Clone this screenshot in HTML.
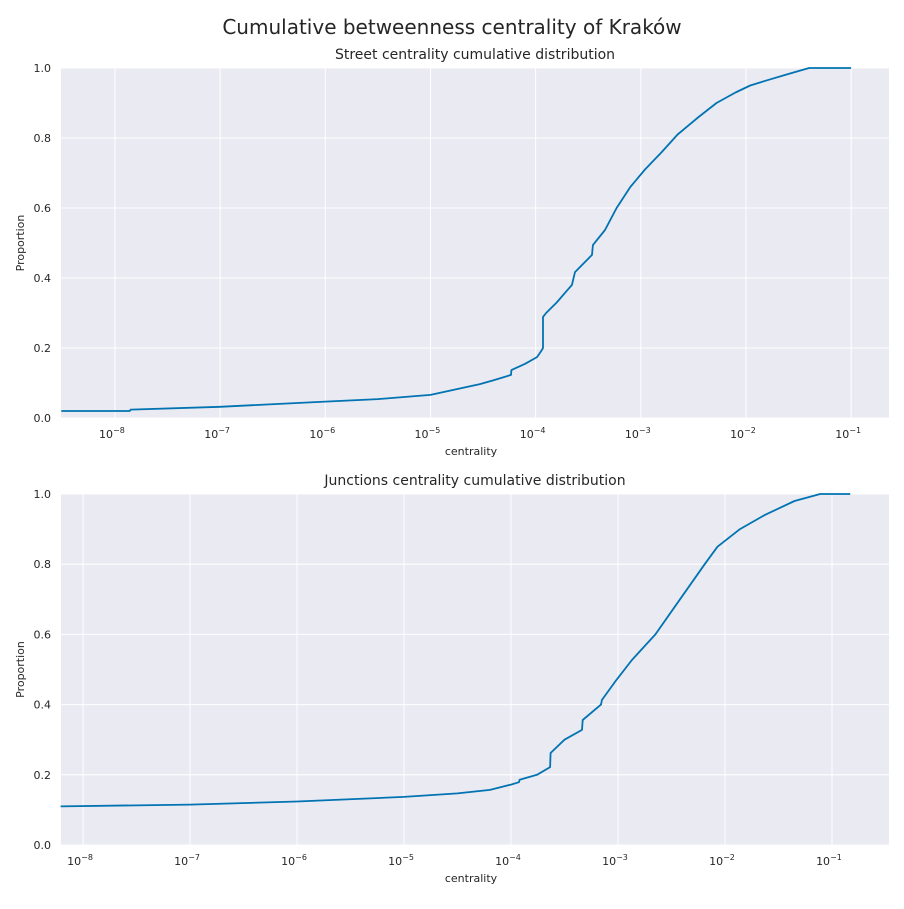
<!DOCTYPE html>
<html><head><meta charset="utf-8"><style>
body{margin:0;background:#fff;}
svg text{font-family:"DejaVu Sans","Liberation Sans",sans-serif;fill:#262626;}
</style></head><body>
<svg id="chart" width="904" height="904" viewBox="0 0 904 904">
<text x="452" y="34" font-size="20" text-anchor="middle">Cumulative betweenness centrality of Kraków</text>
</svg>
<script>
// Street panel data (log10 centrality, proportion)
const streetLogX=[-8.51,-7.86,-7.85,-7,-6,-5.5,-5,-4.53,-4.4,-4.234,-4.23,-4.1,-3.987,-3.95,-3.93,-3.93,-3.9,-3.8,-3.7,-3.655,-3.626,-3.55,-3.464,-3.455,-3.34,-3.29,-3.23,-3.1,-2.96,-2.8,-2.65,-2.45,-2.28,-2.1,-1.96,-1.8,-1.63,-1.4,-1.0];
const streetY=[0.02,0.02,0.024,0.032,0.047,0.054,0.066,0.097,0.108,0.123,0.137,0.155,0.174,0.19,0.2,0.289,0.30,0.33,0.365,0.38,0.417,0.44,0.466,0.494,0.537,0.566,0.60,0.66,0.71,0.76,0.81,0.86,0.90,0.93,0.95,0.965,0.98,1.0,1.0];
// Junction panel data
const juncLogX=[-8.21,-7,-6,-5,-4.5,-4.196,-4.0,-3.925,-3.92,-3.757,-3.635,-3.63,-3.5,-3.336,-3.33,-3.159,-3.15,-3.03,-2.87,-2.65,-2.42,-2.19,-2.07,-1.86,-1.63,-1.35,-1.11,-0.83];
const juncY=[0.11,0.115,0.124,0.137,0.147,0.157,0.172,0.179,0.186,0.2,0.222,0.262,0.3,0.328,0.356,0.4,0.413,0.464,0.527,0.6,0.7,0.8,0.85,0.9,0.94,0.98,1.0,1.0];
const yTicks=[0,0.2,0.4,0.6,0.8,1.0];
const xTickExps=[-8,-7,-6,-5,-4,-3,-2,-1];

const NS="http://www.w3.org/2000/svg";
const svg=document.getElementById('chart');
function mk(tag,attrs,parent){const e=document.createElementNS(NS,tag);for(const k in attrs)e.setAttribute(k,attrs[k]);(parent||svg).appendChild(e);return e;}

function panel(cfg){
  const g=mk('g',{});
  
  
  const L=61,R=889,T=cfg.top,B=cfg.bottom;
  const xs=v=>L+(v-cfg.xmin)/(cfg.xmax-cfg.xmin)*(R-L);
  const ys=v=>B-v*(B-T);
  const bg=mk('rect',{x:L,y:T,width:R-L,height:B-T,fill:'#eaeaf2'},g);
  
  
  yTicks.forEach(t=>{
    const ln=mk('line',{x1:L,x2:R,y1:ys(t),y2:ys(t),stroke:'#fff','stroke-width':1},g);
    
    
    const tx=mk('text',{x:L-10,y:ys(t)+4,'font-size':11,'text-anchor':'end'},g);
    tx.textContent=t.toFixed(1);
    
    
  });
  xTickExps.forEach(e=>{
    const x=xs(e);
    const ln=mk('line',{x1:x,x2:x,y1:T,y2:B,stroke:'#fff','stroke-width':1},g);
    
    
    const tx=mk('text',{x:x-3,y:B+20,'font-size':11,'text-anchor':'middle'},g);
    
    
    tx.textContent='10';
    const sup=mk('tspan',{dy:-5,'font-size':8},tx);
    sup.textContent='−'+Math.abs(e);
  });
  let d='';
  cfg.lx.forEach((v,i)=>{d+=(i?'L':'M')+xs(v).toFixed(1)+','+ys(cfg.ly[i]).toFixed(1);});
  const p=mk('path',{d:d,fill:'none',stroke:'#0173b2','stroke-width':1.8,'stroke-linejoin':'round'},g);
  
  
  const t=mk('text',{x:(L+R)/2,y:T-9,'font-size':14,'text-anchor':'middle'},g);
  t.textContent=cfg.title;
  
  
  const xl=mk('text',{x:(L+R)/2-4,y:B+37,'font-size':11,'text-anchor':'middle'},g);
  xl.textContent='centrality';
  
  
  const yl=mk('text',{x:0,y:0,'font-size':11,'text-anchor':'middle',transform:`translate(24,${(T+B)/2}) rotate(-90)`},g);
  yl.textContent='Proportion';
  
  
}
panel({name:'street-panel',top:68,bottom:418,xmin:-8.513,xmax:-0.64,lx:streetLogX,ly:streetY,title:'Street centrality cumulative distribution'});
panel({name:'junctions-panel',top:494,bottom:845,xmin:-8.206,xmax:-0.467,lx:juncLogX,ly:juncY,title:'Junctions centrality cumulative distribution'});
</script>
</body></html>
